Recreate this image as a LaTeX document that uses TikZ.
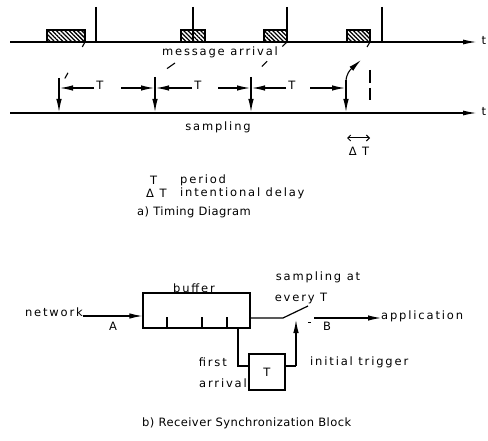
\documentclass[tikz,border=0pt]{standalone}
\usepackage{fontspec}
\setmainfont{DejaVu Sans}
\newfontfamily\lfont[LetterSpace=16]{DejaVu Sans}
\newfontfamily\cfont[LetterSpace=4]{DejaVu Sans}
\usetikzlibrary{arrows.meta,patterns.meta,calc}
\begin{document}
\begin{tikzpicture}[x=1pt,y=-1pt,
  every node/.style={font=\lfont\fontsize{11.5}{14}\selectfont, inner sep=0pt},
  captxt/.style={font=\cfont\fontsize{11.5}{14}\selectfont},
  ln/.style={line width=1.2pt},
  axis/.style={line width=1.4pt,-{Latex[length=14pt,width=5pt]}},
  arr/.style={line width=1.1pt,-{Latex[length=13pt,width=5.5pt]}},
  hatch/.style={draw,line width=1.5pt,pattern={Lines[angle=-45,distance=3pt,line width=1.3pt]}},
  dsh/.style={line width=1.1pt}]
\useasboundingbox (0,0) rectangle (488,441);
% ---------- timing diagram ----------
\coordinate (a0) at (10,42); \coordinate (a1) at (477,42);
\coordinate (s0) at (10,113); \coordinate (s1) at (477,113);
\draw[axis] (a0) -- (a1);
\draw[axis] (s0) -- (s1);
\node (t1) at (484,40) {t};
\node (t2) at (484,111) {t};
% ticks
\foreach \x/\n in {96/k1,193/k2,287/k3,382/k4}{
  \coordinate (\n a) at (\x,7); \coordinate (\n b) at (\x,42);
  \draw[ln] (\n a) -- (\n b);}
% hatched boxes
\foreach \l/\r/\n in {47/85/h1,181/205/h2,264/287/h3,347/370/h4}{
  \draw[hatch] (\l,30) rectangle (\r,42);
  \coordinate (\n) at (\r,42);}
\node (ma) at (220,52) {message arrival};
\node (sa) at (218,127) {sampling};
% sampling arrows
\foreach \x/\y/\n in {59/78/v1,155/77/v2,251/77/v3,346/80/v4}{
  \coordinate (\n t) at (\x,\y); \coordinate (\n b) at (\x,112);
  \draw[arr] (\n t) -- (\n b);}
% dashed arrival -> sampling lines
\coordinate (e1) at (64,80); \coordinate (e2) at (155,77); \coordinate (e3) at (251,77);
\draw[dsh] (h1) -- ($(h1)!0.13!(e1)$);
\draw[dsh] ($(h1)!0.81!(e1)$) -- ($(h1)!0.96!(e1)$);
\draw[dsh] ($(h2)!0.60!(e2)$) -- ($(h2)!0.76!(e2)$);
\draw[dsh] (h3) -- ($(h3)!0.13!(e3)$);
\draw[dsh] ($(h3)!0.55!(e3)$) -- ($(h3)!0.70!(e3)$);
\draw[dsh] (h4) -- ++(-3,5);
% delayed sample
\coordinate (d0) at (346,82);
\coordinate (d1) at (361,60);
\draw[arr] (d0) .. controls (346,74) and (350,70) .. (d1);
\coordinate (g0) at (370,70); \coordinate (g1) at (370,100);
\draw[line width=1.2pt,dash pattern=on 13pt off 5pt] (g0) -- (g1);
% T dimension arrows
\node (T1) at (100,85) {T};
\node (T2) at (198,85) {T};
\node (T3) at (292,85) {T};
\coordinate (p1) at (121,88); \coordinate (p2) at (218,88); \coordinate (p3) at (310,88);
\draw[arr] (94,88) -- (60,88);
\draw[arr] (p1) -- (154,88);
\draw[arr] (192,88) -- (156,88);
\draw[arr] (p2) -- (250,88);
\draw[arr] (286,88) -- (252,88);
\draw[arr] (p3) -- (345,88);
% Delta T
\coordinate (q0) at (347,138); \coordinate (q1) at (370,138);
\draw[line width=1pt,{Straight Barb[length=3pt]}-{Straight Barb[length=3pt]}] (q0) -- (q1);
\node (dT) at (359,151) {Δ T};
% legend
\node[anchor=west] (lT) at (150,180) {T};
\node[anchor=west] (lp) at (180,180) {period};
\node[anchor=west] (lD) at (146,193) {Δ T};
\node[anchor=west] (li) at (180,193) {intentional delay};
\node[anchor=west,captxt] (ca) at (137,212) {a) Timing Diagram};
% ---------- receiver synchronization block ----------
\node[draw,line width=1.2pt,minimum width=107pt,minimum height=35pt] (buf) at (196.5,310.5) {};
\node[anchor=base] (bl) at (194,292) {buffer};
\foreach \x in {167,202,227}{\draw[ln] (\x,317) -- (\x,328);}
\node[anchor=east] (net) at (83,312) {network};
\coordinate (nA) at (83,316);
\draw[arr] (nA) -- (buf.west |- nA);
\node (A) at (113,326) {A};
\coordinate (o0) at (buf.east |- 0,318);
\coordinate (sw) at (283,318);
\coordinate (swe) at (308,306);
\draw[ln] (o0) -- (sw) -- (swe);
\draw[ln] (308,322.5) -- (311,322.5);
\coordinate (o1) at (314,318);
\node[anchor=west] (app) at (381,316) {application};
\draw[arr] (o1) -- (app.west |- o1);
\node (B) at (327,326) {B};
\node (smp) at (318,277) {sampling at};
\node (ev) at (301,299) {every T};
\node[draw,line width=1.2pt,minimum width=36pt,minimum height=36pt] (Tb) at (267,372) {T};
\coordinate (fb) at (238,328);
\draw[ln] (fb) |- (Tb.west |- 0,366);
\coordinate (tr) at (296,366);
\draw[ln] (Tb.east |- tr) -- (tr);
\draw[arr] (tr) -- (296,320);
\node[anchor=east] (fi) at (227,362) {first};
\node[anchor=east] (ar) at (247,383) {arrival};
\node[anchor=west] (it) at (310,362) {initial trigger};
\node[anchor=west,captxt] (cb) at (142,423) {b) Receiver Synchronization Block};
\end{tikzpicture}
\end{document}
